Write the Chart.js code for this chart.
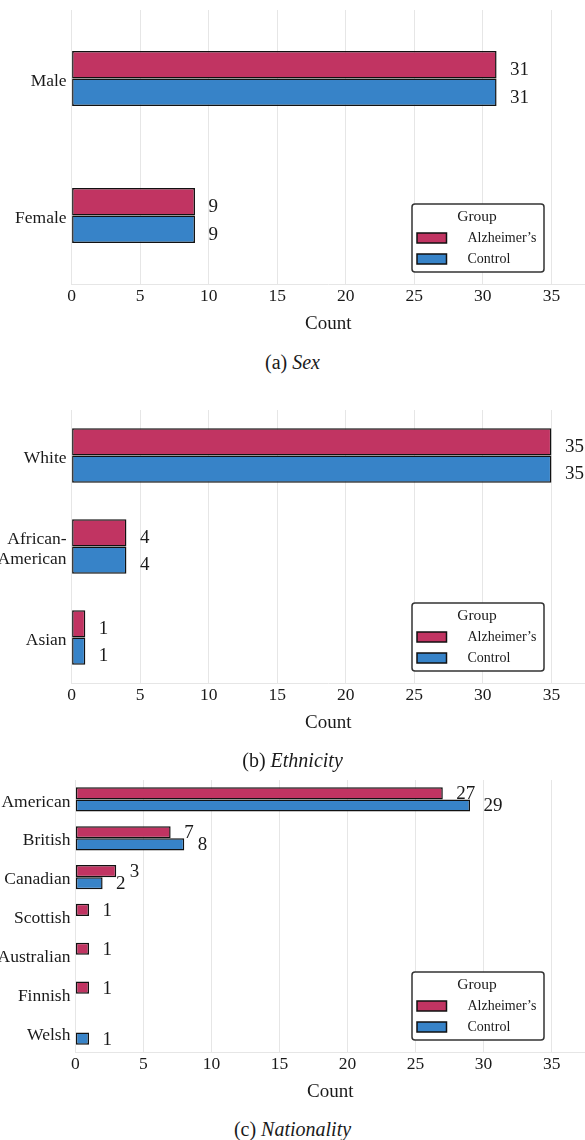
<!DOCTYPE html>
<html>
<head>
<meta charset="utf-8">
<script src="https://cdn.jsdelivr.net/npm/chart.js@4.4.1/dist/chart.umd.min.js"></script>
<style>
  html, body { margin:0; padding:0; background:#fff; width:585px; height:1140px; overflow:hidden; position:relative; }
  canvas { position:absolute; left:0; }
  .cap { position:absolute; left:0; width:585px; text-align:center; font-family:"Liberation Serif", "Times New Roman", serif; font-size:20px; color:#1a1a1a; line-height:24px; }
</style>
</head>
<body>
<canvas id="c1" width="585" height="345" style="top:0px"></canvas>
<canvas id="c2" width="585" height="344" style="top:400px"></canvas>
<canvas id="c3" width="585" height="343" style="top:770px"></canvas>
<div class="cap" style="top:350px">(a) <i>Sex</i></div>
<div class="cap" style="top:748px">(b) <i>Ethnicity</i></div>
<div class="cap" style="top:1117px">(c) <i>Nationality</i></div>
<script>
// ---- data ----
const groupLabels = ["Alzheimer\u2019s", "Control"];
const legendTitle = "Group";
const axisTitle = "Count";

const sexCategories = ["Male", "Female"];
const sexAlz = [31, 9];
const sexCtrl = [31, 9];

const ethCategories = ["White", ["African-", "American"], "Asian"];
const ethAlz = [35, 4, 1];
const ethCtrl = [35, 4, 1];

const natCategories = ["American", "British", "Canadian", "Scottish", "Australian", "Finnish", "Welsh"];
const natAlz = [27, 7, 3, 1, 1, 1, 0];
const natCtrl = [29, 8, 2, 0, 0, 0, 1];

const xTickStep = 5;
const xMax = 37.45;

// ---- styles ----
const SERIF = '"Liberation Serif", "Times New Roman", serif';
const COL_ALZ = '#C13462';
const COL_CTRL = '#3783C8';
const TEXT = '#1a1a1a';
const GRID = '#e6e6e6';

function valueLabels(dy) {
  return {
    id: 'valueLabels',
    afterDatasetsDraw(chart) {
      const ctx = chart.ctx;
      ctx.save();
      ctx.font = '19px ' + SERIF;
      ctx.fillStyle = TEXT;
      ctx.textAlign = 'left';
      ctx.textBaseline = 'middle';
      chart.data.datasets.forEach((ds, di) => {
        const meta = chart.getDatasetMeta(di);
        meta.data.forEach((bar, i) => {
          const v = ds.data[i];
          if (!v) return;
          ctx.fillText(String(v), bar.x + 13.5, bar.y + dy);
        });
      });
      ctx.restore();
    }
  };
}

const boxLegend = {
  id: 'boxLegend',
  afterDraw(chart) {
    const ctx = chart.ctx;
    const a = chart.chartArea;
    const w = 132, h = 68;
    const x0 = a.right - 41 - w;
    const y0 = a.bottom - 12 - h;
    ctx.save();
    const r = 3;
    ctx.beginPath();
    ctx.moveTo(x0 + r, y0);
    ctx.lineTo(x0 + w - r, y0);
    ctx.arcTo(x0 + w, y0, x0 + w, y0 + r, r);
    ctx.lineTo(x0 + w, y0 + h - r);
    ctx.arcTo(x0 + w, y0 + h, x0 + w - r, y0 + h, r);
    ctx.lineTo(x0 + r, y0 + h);
    ctx.arcTo(x0, y0 + h, x0, y0 + h - r, r);
    ctx.lineTo(x0, y0 + r);
    ctx.arcTo(x0, y0, x0 + r, y0, r);
    ctx.closePath();
    ctx.fillStyle = '#ffffff';
    ctx.fill();
    ctx.lineWidth = 1.5;
    ctx.strokeStyle = '#333333';
    ctx.stroke();
    ctx.fillStyle = TEXT;
    ctx.font = '15.5px ' + SERIF;
    ctx.textAlign = 'center';
    ctx.textBaseline = 'middle';
    ctx.fillText(legendTitle, x0 + 65, y0 + 13);
    ctx.font = '14px ' + SERIF;
    ctx.textAlign = 'left';
    chart.data.datasets.forEach((ds, i) => {
      const cy = y0 + 34 + i * 21;
      ctx.fillStyle = ds.backgroundColor;
      ctx.fillRect(x0 + 5, cy - 5, 29.5, 10);
      ctx.lineWidth = 1.5;
      ctx.strokeStyle = '#111';
      ctx.strokeRect(x0 + 5, cy - 5, 29.5, 10);
      ctx.fillStyle = TEXT;
      ctx.fillText(ds.label, x0 + 55.5, cy + 0.5);
    });
    ctx.restore();
  }
};

function makeChart(id, cats, alz, ctrl, yAxisWidth, catPct, labelDy) {
  const bw = c => (c.raw ? 1.5 : 0);
  return new Chart(document.getElementById(id), {
    type: 'bar',
    data: {
      labels: cats,
      datasets: [
        { label: groupLabels[0], data: alz, backgroundColor: COL_ALZ, borderColor: '#111', borderWidth: bw, borderSkipped: false },
        { label: groupLabels[1], data: ctrl, backgroundColor: COL_CTRL, borderColor: '#111', borderWidth: bw, borderSkipped: false }
      ]
    },
    options: {
      indexAxis: 'y',
      responsive: false,
      devicePixelRatio: 1,
      animation: false,
      categoryPercentage: catPct,
      barPercentage: 1.0,
      layout: { padding: { top: 10, left: 0, right: 0, bottom: 0 } },
      plugins: { legend: { display: false }, tooltip: { enabled: false } },
      scales: {
        x: {
          type: 'linear',
          min: 0,
          max: xMax,
          grid: { color: GRID, lineWidth: 1, drawTicks: false },
          border: { display: true, color: GRID, width: 1 },
          ticks: { stepSize: xTickStep, includeBounds: false, padding: 2, color: TEXT, font: { family: SERIF, size: 17.5, lineHeight: 1.15 } },
          title: { display: true, text: axisTitle, color: TEXT, font: { family: SERIF, size: 19, lineHeight: 1.15 }, padding: { top: 4, bottom: 10.5 } },
          afterFit: s => { s.height = 61; }
        },
        y: {
          grid: { display: false, drawTicks: false },
          border: { display: false },
          ticks: { padding: 5, labelOffset: 2.5, color: TEXT, font: { family: SERIF, size: 17.5, lineHeight: 1.15 } },
          afterFit: s => { s.width = yAxisWidth; s.paddingTop = 0; s.paddingBottom = 0; }
        }
      }
    },
    plugins: [valueLabels(labelDy), boxLegend]
  });
}

makeChart('c1', sexCategories, sexAlz, sexCtrl, 71.6, 0.40, 5.5);
makeChart('c2', ethCategories, ethAlz, ethCtrl, 71.6, 0.60, 5);
makeChart('c3', natCategories, natAlz, natCtrl, 75.4, 0.625, 1);
</script>
</body>
</html>
